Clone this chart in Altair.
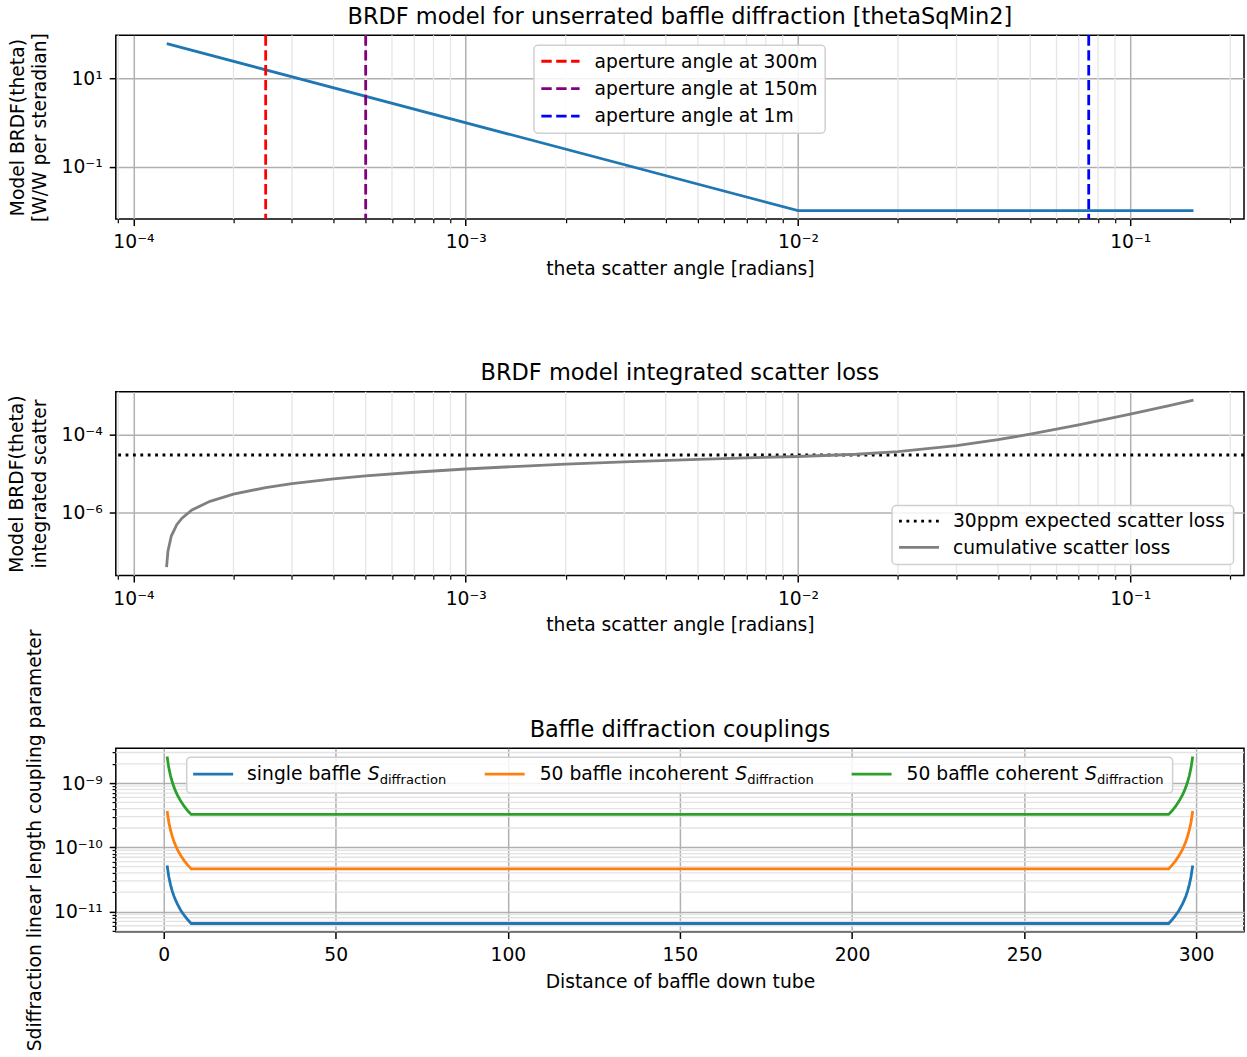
import altair as alt
import pandas as pd

# ---------------- data ----------------
THETA_BRDF = [1.26e-4, 1.0e-2, 0.155]
BRDF_VALUES = [62.0, 0.0100, 0.0100]

APERTURE_LABELS = ["aperture angle at 300m", "aperture angle at 150m", "aperture angle at 1m"]
APERTURE_ANGLES = [2.5e-4, 5.0e-4, 7.5e-2]

THETA_CUM = [1.258e-4, 1.27e-4, 1.3e-4, 1.35e-4, 1.4e-4, 1.5e-4, 1.7e-4, 2e-4, 2.5e-4,
             3e-4, 4e-4, 5e-4, 7e-4, 1e-3, 1.5e-3, 2e-3, 3e-3, 5e-3, 7e-3, 1e-2,
             1.5e-2, 2e-2, 3e-2, 4e-2, 5e-2, 7e-2, 0.1, 0.13, 0.155]
CUM_LOSS = [3.9e-8, 1.0e-7, 2.46e-7, 4.83e-7, 7.1e-7, 1.15e-6, 1.93e-6, 2.95e-6, 4.35e-6,
            5.5e-6, 7.3e-6, 8.7e-6, 1.08e-5, 1.31e-5, 1.56e-5, 1.74e-5, 2.0e-5, 2.32e-5, 2.53e-5, 2.75e-5,
            3.14e-5, 3.69e-5, 5.26e-5, 7.46e-5, 1.03e-4, 1.78e-4, 3.38e-4, 5.55e-4, 7.8e-4]
EXPECTED_LOSS = [3.0e-5]
LOSS_LABELS = ["30ppm expected scatter loss", "cumulative scatter loss"]

DIST = [1, 1.5, 2, 2.5, 3, 3.5, 4, 5, 6, 7, 8,
        292, 293, 294, 295, 296, 296.5, 297, 297.5, 298, 298.5, 299]
S_SINGLE = [5.2e-11, 3.47e-11, 2.6e-11, 2.08e-11, 1.73e-11, 1.49e-11, 1.3e-11, 1.04e-11, 8.67e-12, 7.43e-12, 6.5e-12,
            6.5e-12, 7.43e-12, 8.67e-12, 1.04e-11, 1.3e-11, 1.49e-11, 1.73e-11, 2.08e-11, 2.6e-11, 3.47e-11, 5.2e-11]
S_INCOH = [3.69e-10, 2.46e-10, 1.85e-10, 1.48e-10, 1.23e-10, 1.06e-10, 9.23e-11, 7.38e-11, 6.15e-11, 5.27e-11, 4.62e-11,
           4.62e-11, 5.27e-11, 6.15e-11, 7.38e-11, 9.23e-11, 1.06e-10, 1.23e-10, 1.48e-10, 1.85e-10, 2.46e-10, 3.69e-10]
S_COH = [2.6e-9, 1.73e-9, 1.3e-9, 1.04e-9, 8.67e-10, 7.43e-10, 6.5e-10, 5.2e-10, 4.33e-10, 3.71e-10, 3.25e-10,
         3.25e-10, 3.71e-10, 4.33e-10, 5.2e-10, 6.5e-10, 7.43e-10, 8.67e-10, 1.04e-9, 1.3e-9, 1.73e-9, 2.6e-9]
SERIES_PREFIX = ["single baffle ", "50 baffle incoherent ", "50 baffle coherent "]
SERIES_LABELS = ["single baffle S_diffraction", "50 baffle incoherent S_diffraction", "50 baffle coherent S_diffraction"]

PANEL_TITLES = ["BRDF model for unserrated baffle diffraction [thetaSqMin2]",
                "BRDF model integrated scatter loss",
                "Baffle diffraction couplings"]

X_LOG_MAJOR = [1e-4, 1e-3, 1e-2, 1e-1]
X_LOG_MINOR = [9e-5, 2e-4, 3e-4, 4e-4, 5e-4, 6e-4, 7e-4, 8e-4, 9e-4,
               2e-3, 3e-3, 4e-3, 5e-3, 6e-3, 7e-3, 8e-3, 9e-3,
               2e-2, 3e-2, 4e-2, 5e-2, 6e-2, 7e-2, 8e-2, 9e-2, 2e-1]
Y1_MAJOR = [1e1, 1e-1]
Y2_MAJOR = [1e-4, 1e-6]
Y3_MAJOR = [1e-9, 1e-10, 1e-11]
Y3_MINOR = [5e-12, 6e-12, 7e-12, 8e-12, 9e-12,
            2e-11, 3e-11, 4e-11, 5e-11, 6e-11, 7e-11, 8e-11, 9e-11,
            2e-10, 3e-10, 4e-10, 5e-10, 6e-10, 7e-10, 8e-10, 9e-10, 2e-9, 3e-9]
X3_TICKS = [0, 50, 100, 150, 200, 250, 300]

# ---------------- style ----------------
FONT = "DejaVu Sans"
FS = 18.75
TFS = 22.5
LW = 2.8
W, H = 1130, 184
TAB = ["#1f77b4", "#ff7f0e", "#2ca02c"]

SUP = str.maketrans("-0123456789", "⁻⁰¹²³⁴⁵⁶⁷⁸⁹")


def pow10_expr(values):
    import math
    expr = "''"
    for v in reversed(values):
        e = int(round(math.log10(v)))
        lab = "10" + str(e).translate(SUP)
        expr = f"round(log(datum.value)/LN10) == {e} ? '{lab}' : ({expr})"
    return expr


AX = dict(labelFont=FONT, labelFontSize=FS, titleFont=FONT, titleFontSize=FS, titleFontWeight="normal",
          labelColor="black", titleColor="black", tickColor="black", tickWidth=1.5, domain=False,
          gridColor="#b0b0b0", gridWidth=1.5)


def x_major_axis(values, title, label_expr=None):
    kw = dict(values=values, grid=True, orient="bottom", title=title, titlePadding=7.5,
              labelFlush=False, labelOverlap=False, tickSize=6.6, labelPadding=7.4, **AX)
    if label_expr:
        kw["labelExpr"] = label_expr
    return alt.Axis(**kw)


def y_major_axis(values, title, title_x):
    return alt.Axis(values=values, labelExpr=pow10_expr(values), grid=True, orient="left",
                    title=title, titleX=title_x, titleY=H / 2, titleAngle=270,
                    titleBaseline="bottom", titleAlign="center", titleLineHeight=22.5,
                    labelPadding=7, labelOverlap=False, tickSize=6.6, **AX)


def minor_axis(values, orient):
    return alt.Axis(values=values, labels=False, ticks=True, tickSize=3.75, tickWidth=1.2,
                    tickColor="black", grid=False, domain=False, title=None, orient=orient)


ONE = pd.DataFrame({"k": [0]})


def legend_box(x0, y0, x1, y1):
    return alt.Chart(ONE).mark_rect(fill="white", fillOpacity=0.85, stroke="#d0d0d0",
                                    strokeWidth=1.5, cornerRadius=4).encode(
        x=alt.value(x0), x2=alt.value(x1), y=alt.value(y0), y2=alt.value(y1))


def legend_line(x0, x1, y, color, dash=None):
    kw = dict(color=color, strokeWidth=LW)
    if dash:
        kw["strokeDash"] = dash
    return alt.Chart(ONE).mark_rule(**kw).encode(x=alt.value(x0), x2=alt.value(x1), y=alt.value(y))


def legend_text(text, x, y, size=FS, style="normal", align="left"):
    return alt.Chart(pd.DataFrame({"t": [text]})).mark_text(
        align=align, baseline="alphabetic", font=FONT, fontSize=size, fontStyle=style, color="black"
    ).encode(x=alt.value(x), y=alt.value(y), text="t:N")


def panel_title(text):
    return legend_text(text, W / 2, -11.25, size=TFS, align="center")


DASH = [10.4, 4.5]
DOT = [2.8, 4.6]

# ---------------- panel 1 ----------------
xs = alt.Scale(type="log", domain=[8.85e-5, 0.22], nice=False)
ys1 = alt.Scale(type="log", domain=[0.00646, 95.9], nice=False)

minor_x = alt.Chart(pd.DataFrame({"v": X_LOG_MINOR})).mark_rule(color="#e6e6e6", strokeWidth=1.3).encode(
    x=alt.X("v:Q", scale=xs, axis=minor_axis(X_LOG_MINOR, "bottom")))

df_brdf = pd.DataFrame({"theta": THETA_BRDF, "brdf": BRDF_VALUES})
brdf_line = alt.Chart(df_brdf).mark_line(color=TAB[0], strokeWidth=LW).encode(
    x=alt.X("theta:Q", scale=xs, axis=x_major_axis(X_LOG_MAJOR, "theta scatter angle [radians]",
                                                    pow10_expr(X_LOG_MAJOR))),
    y=alt.Y("brdf:Q", scale=ys1, axis=y_major_axis(Y1_MAJOR, ["Model BRDF(theta)", "[W/W per steradian]"], -88.5)))

AP_COLORS = ["#ff0000", "#800080", "#0000ff"]
ap_layers = []
for ang, col in zip(APERTURE_ANGLES, AP_COLORS):
    ap_layers.append(
        alt.Chart(pd.DataFrame({"theta": [ang]})).mark_rule(strokeWidth=LW, strokeDash=DASH, color=col).encode(
            x=alt.X("theta:Q", scale=xs, axis=None)))

leg1 = [legend_box(418.8, 10, 710.5, 98)]
for i, (lab, col) in enumerate(zip(APERTURE_LABELS, AP_COLORS)):
    yy = 26 + i * 27.5
    leg1.append(legend_line(426.2, 464.5, yy, col, DASH))
    leg1.append(legend_text(lab, 479.5, yy + 6.3))

p1 = alt.layer(minor_x, brdf_line, *ap_layers, *leg1, panel_title(PANEL_TITLES[0])).resolve_axis(
    x="independent", y="independent").properties(width=W, height=H)

# ---------------- panel 2 ----------------
ys2 = alt.Scale(type="log", domain=[2.38e-8, 1.28e-3], nice=False)

df_exp = pd.DataFrame({"v": EXPECTED_LOSS})
exp_rule = alt.Chart(df_exp).mark_rule(color="black", strokeWidth=LW, strokeDash=DOT).encode(
    y=alt.Y("v:Q", scale=ys2, axis=None))

df_cum = pd.DataFrame({"theta": THETA_CUM, "loss": CUM_LOSS})
cum_line = alt.Chart(df_cum).mark_line(color="#808080", strokeWidth=LW).encode(
    x=alt.X("theta:Q", scale=xs, axis=x_major_axis(X_LOG_MAJOR, "theta scatter angle [radians]",
                                                    pow10_expr(X_LOG_MAJOR))),
    y=alt.Y("loss:Q", scale=ys2, axis=y_major_axis(Y2_MAJOR, ["Model BRDF(theta)", "integrated scatter"], -89)))

leg2 = [legend_box(777.5, 114, 1119.5, 173),
        legend_line(784.5, 824.5, 129.7, "black", DOT),
        legend_text(LOSS_LABELS[0], 838.5, 136),
        legend_line(784.5, 824.5, 156, "#808080"),
        legend_text(LOSS_LABELS[1], 838.5, 162.3)]

p2 = alt.layer(minor_x, exp_rule, cum_line, *leg2, panel_title(PANEL_TITLES[1])).resolve_axis(
    x="independent", y="independent").properties(width=W, height=H)

# ---------------- panel 3 ----------------
xs3 = alt.Scale(domain=[-13.9, 313.9], nice=False, zero=False)
ys3 = alt.Scale(type="log", domain=[4.82e-12, 3.51e-9], nice=False)

minor_y = alt.Chart(pd.DataFrame({"v": Y3_MINOR})).mark_rule(color="#e3e3e3", strokeWidth=1.3).encode(
    y=alt.Y("v:Q", scale=ys3, axis=minor_axis(Y3_MINOR, "left")))

rows = []
for lab, vals in zip(SERIES_LABELS, [S_SINGLE, S_INCOH, S_COH]):
    for d, s in zip(DIST, vals):
        rows.append({"d": d, "s": s, "series": lab})
df3 = pd.DataFrame(rows)

lines3 = alt.Chart(df3).mark_line(strokeWidth=LW).encode(
    x=alt.X("d:Q", scale=xs3, axis=x_major_axis(X3_TICKS, "Distance of baffle down tube")),
    y=alt.Y("s:Q", scale=ys3,
            axis=y_major_axis(Y3_MAJOR, "Sdiffraction linear length coupling parameter", -71)),
    color=alt.Color("series:N", scale=alt.Scale(domain=SERIES_LABELS, range=TAB), legend=None),
    detail="series:N")

leg3 = [legend_box(71, 9, 1058.5, 45)]
entry_x = [(77.5, 131.5, 252.3), (369.5, 424.5, 620.4), (737.0, 792.0, 970.8)]
for (lx, tx, sx), pre, col in zip(entry_x, SERIES_PREFIX, TAB):
    leg3.append(legend_line(lx, lx + 40, 26, col))
    leg3.append(legend_text(pre.strip(), tx, 32.3))
    leg3.append(legend_text("S", sx, 32.3, style="italic"))
    leg3.append(legend_text("diffraction", sx + 12, 35.6, size=13.1))

p3 = alt.layer(minor_y, lines3, *leg3, panel_title(PANEL_TITLES[2])).resolve_axis(
    y="independent").properties(width=W, height=H)

chart = alt.vconcat(p1, p2, p3, spacing=173, bounds="flush").resolve_scale(color="independent").properties(
    padding={"left": 7, "top": 4.5, "right": 0, "bottom": 0}, background="white"
).configure_view(stroke="black", strokeWidth=1.5)

chart.save("out.html", embed_options={"renderer": "svg", "actions": False})
